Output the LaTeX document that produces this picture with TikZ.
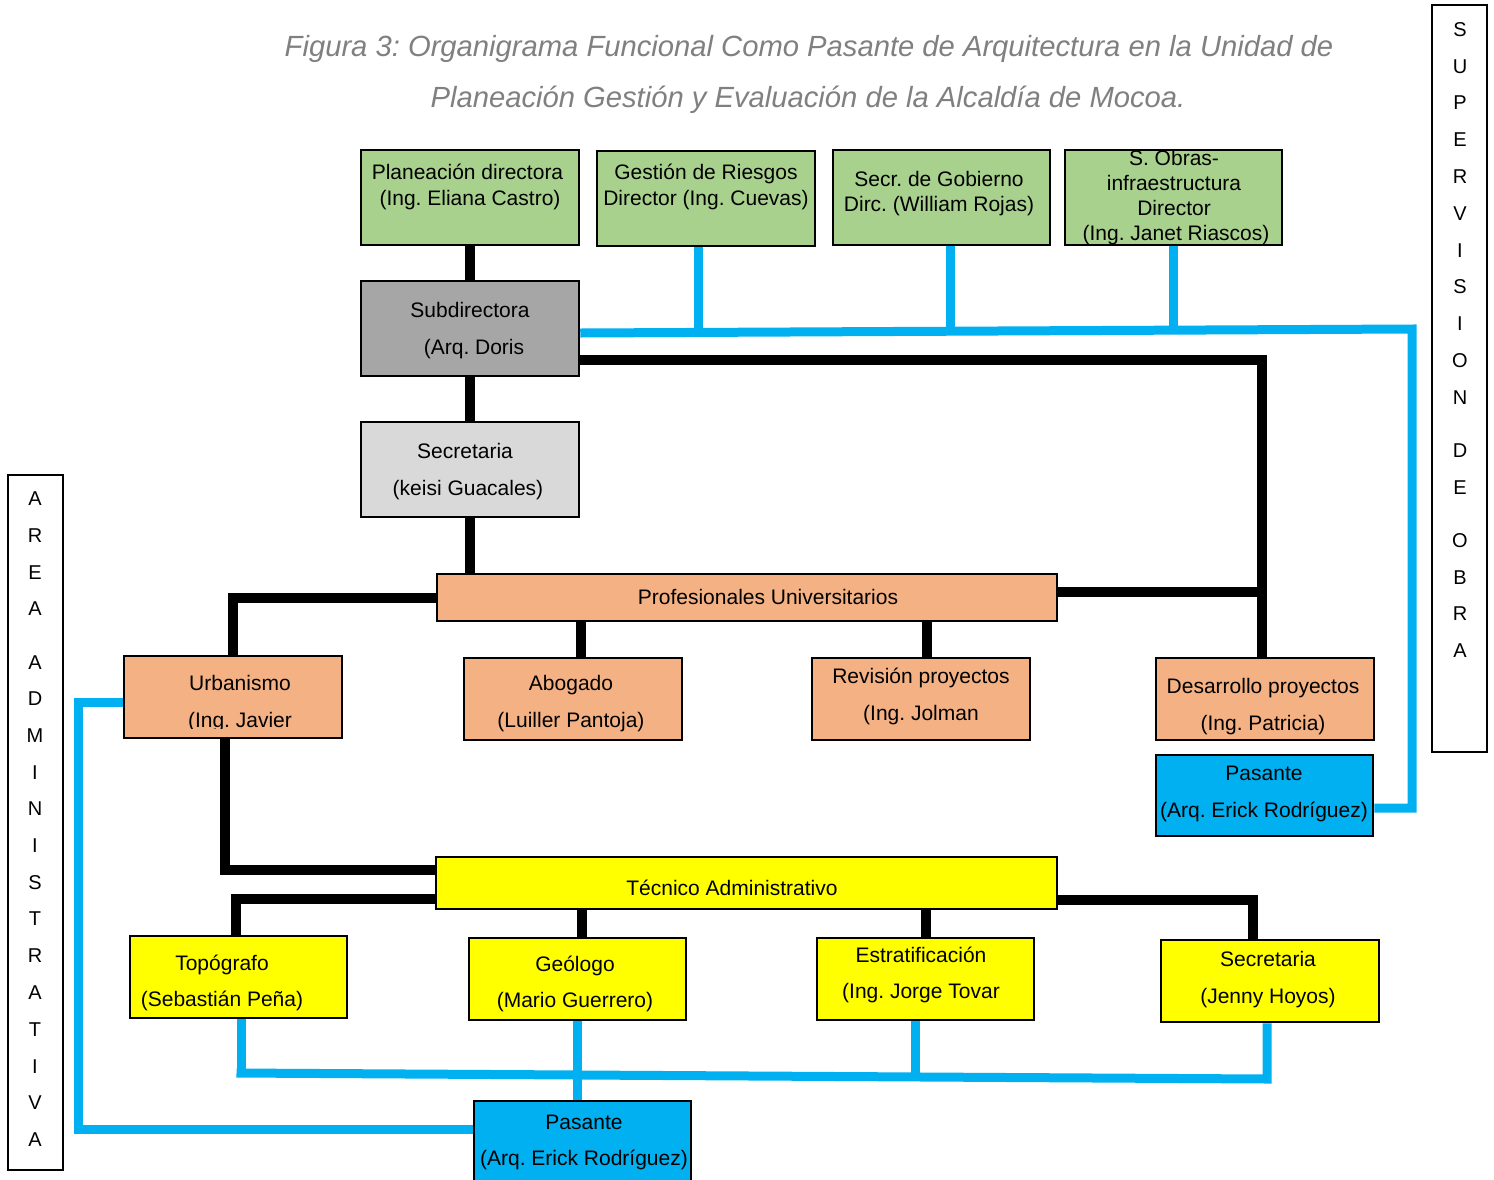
\documentclass[tikz,border=0pt]{standalone}
\usepackage{fontspec}
\setmainfont{Liberation Sans}
\usetikzlibrary{calc}
\frenchspacing
\definecolor{cgreen}{HTML}{A9D18E}
\definecolor{cgray}{HTML}{A6A6A6}
\definecolor{clgray}{HTML}{D9D9D9}
\definecolor{corange}{HTML}{F4B183}
\definecolor{cblue}{HTML}{00B0F0}
\definecolor{cyellow}{HTML}{FFFF00}
\definecolor{ctitle}{HTML}{808080}
\pgfdeclarelayer{bg}
\pgfsetlayers{bg,main}
\newcommand\tline[4]{\node[txt] (#1) at (#2,#3+7.5) {#4};}
\begin{document}
\frenchspacing
\begin{tikzpicture}[x=1pt,y=-1pt,
  box/.style={draw=black, line width=2.5pt, inner sep=0pt, rectangle},
  sidebox/.style={draw=black, line width=1.3pt, inner sep=0pt, rectangle, fill=white},
  txt/.style={font=\fontsize{21}{25}\selectfont, inner sep=0pt, anchor=base},
  side/.style={font=\fontsize{20}{24}\selectfont, inner sep=0pt, anchor=base},
  ttl/.style={font=\fontsize{29.2}{32}\selectfont\itshape, text=ctitle, inner sep=0pt, anchor=base},
  blk/.style={line width=10pt, draw=black},
  blu/.style={line width=9pt, draw=cblue}]
\useasboundingbox (0,0) rectangle (1494,1179);

% title
\node[ttl] (t1) at (809,56) {Figura 3: Organigrama Funcional Como Pasante de Arquitectura en la Unidad de};
\node[ttl] (t2) at (808,107) {Planeación Gestión y Evaluación de la Alcaldía de Mocoa.};

% boxes
\node[box, fill=cgreen, minimum width=218pt, minimum height=95pt] (pd) at (470,197.5) {};
\node[box, fill=cgreen, minimum width=218pt, minimum height=95pt] (gr) at (706,198.5) {};
\node[box, fill=cgreen, minimum width=217pt, minimum height=95pt] (sg) at (941.5,197.5) {};
\node[box, fill=cgreen, minimum width=217pt, minimum height=95pt] (ob) at (1173.5,197.5) {};
\node[box, fill=cgray, minimum width=218pt, minimum height=95pt] (sub) at (470,328.5) {};
\node[box, fill=clgray, minimum width=218pt, minimum height=95pt] (sec) at (470,469.5) {};
\node[box, fill=corange, minimum width=620pt, minimum height=47pt] (pu) at (747,597.5) {};
\node[box, fill=corange, minimum width=218pt, minimum height=82pt] (urb) at (233,697) {};
\node[box, fill=corange, minimum width=218pt, minimum height=82pt] (ab) at (573,699) {};
\node[box, fill=corange, minimum width=218pt, minimum height=82pt] (rv) at (921,699) {};
\node[box, fill=corange, minimum width=218pt, minimum height=82pt] (dp) at (1265,699) {};
\node[box, fill=cblue, minimum width=217pt, minimum height=81pt] (pr) at (1264.5,795.5) {};
\node[box, fill=cyellow, minimum width=621pt, minimum height=52pt] (tec) at (746.5,883) {};
\node[box, fill=cyellow, minimum width=217pt, minimum height=82pt] (topo) at (238.5,977) {};
\node[box, fill=cyellow, minimum width=217pt, minimum height=82pt] (geo) at (577.5,979) {};
\node[box, fill=cyellow, minimum width=217pt, minimum height=82pt] (es) at (925.5,979) {};
\node[box, fill=cyellow, minimum width=218pt, minimum height=82pt] (jen) at (1270,981) {};
\node[box, fill=cblue, minimum width=217pt, minimum height=83pt] (pb) at (582.5,1142.5) {};
\node[sidebox, minimum width=55pt, minimum height=695pt] (adm) at (35.5,822.5) {};
\node[sidebox, minimum width=55pt, minimum height=747pt] (sup) at (1459.5,378.5) {};

% texts
\tline{pd1}{467.5}{172}{Planeación directora}
\tline{pd2}{470}{198}{(Ing. Eliana Castro)}
\tline{gr1}{706}{172}{Gestión de Riesgos}
\tline{gr2}{706}{198}{Director (Ing. Cuevas)}
\tline{sg1}{939}{179}{Secr. de Gobierno}
\tline{sg2}{939}{204}{Dirc. (William Rojas)}
\tline{ob1}{1174}{158}{S. Obras-}
\tline{ob2}{1174}{183}{infraestructura}
\tline{ob3}{1174}{208}{Director}
\tline{ob4}{1176}{233}{(Ing. Janet Riascos)}
\tline{sub1}{470}{310}{Subdirectora}
\tline{sub2}{474}{347}{(Arq. Doris}
\tline{sec1}{465}{451}{Secretaria}
\tline{sec2}{468}{488}{(keisi Guacales)}
\tline{pu1}{768}{597}{Profesionales Universitarios}
\tline{urb1}{240}{683}{Urbanismo}
\begin{scope}
\clip (124,656) rectangle (342,728.5);
\tline{urb2}{240}{720}{(Ing. Javier}
\end{scope}
\tline{ab1}{571}{683}{Abogado}
\tline{ab2}{571}{720}{(Luiller Pantoja)}
\tline{rv1}{921}{676}{Revisión proyectos}
\tline{rv2}{921}{713}{(Ing. Jolman}
\tline{dp1}{1263}{686}{Desarrollo proyectos}
\tline{dp2}{1263}{723}{(Ing. Patricia)}
\tline{pr1}{1264}{773}{Pasante}
\tline{pr2}{1264}{810}{(Arq. Erick Rodríguez)}
\tline{tec1}{732}{888}{Técnico Administrativo}
\tline{topo1}{222}{963}{Topógrafo}
\tline{topo2}{222}{999}{(Sebastián Peña)}
\tline{geo1}{575}{964}{Geólogo}
\tline{geo2}{575}{1000}{(Mario Guerrero)}
\tline{es1}{921}{955}{Estratificación}
\tline{es2}{921}{991}{(Ing. Jorge Tovar}
\tline{jen1}{1268}{959}{Secretaria}
\tline{jen2}{1268}{996}{(Jenny Hoyos)}
\tline{pb1}{584}{1122}{Pasante}
\tline{pb2}{584}{1158}{(Arq. Erick Rodríguez)}

\foreach \l/\y [count=\i] in {A/498,R/535,E/572,A/608,A/662,D/698,M/735,I/772,N/808,I/845,S/882,T/918,R/955,A/992,T/1029,I/1066,V/1102,A/1139}
  \node[side] (adm\i) at (35,\y+7) {\l};
\foreach \l/\y [count=\i] in {S/29,U/66,P/102,E/139,R/176,V/213,I/250,S/286,I/323,O/360,N/397,D/450,E/487,O/540,B/577,R/613,A/650}
  \node[side] (sup\i) at (1460,\y+7) {\l};

% connectors
\begin{pgfonlayer}{bg}
\fill[white] (0,0) rectangle (1494,1179);
% black
\draw[blk] (pd.south) -- (sub.north);
\draw[blk] (sub.south) -- (sec.north);
\draw[blk] (sec.south) -- (sec.south |- pu.north);
\coordinate (c1) at ([yshift=-31.5pt]sub.east);
\coordinate (dpn) at ([xshift=-3pt]dp.north);
\draw[blk] (c1) -| (dpn);
\coordinate (c2) at ([yshift=5.5pt]pu.east);
\draw[blk] (c2) -- (c2 -| dpn);
\draw[blk] (pu.west) -| (urb.north);
\coordinate (abn) at ([xshift=8pt]ab.north);
\draw[blk] (abn) -- (abn |- pu.south);
\coordinate (rvn) at ([xshift=6pt]rv.north);
\draw[blk] (rvn) -- (rvn |- pu.south);
\coordinate (urbs) at ([xshift=-8pt]urb.south);
\coordinate (tw1) at ([yshift=13pt]tec.west);
\draw[blk] (urbs) |- (tw1);
\coordinate (tw2) at ([yshift=-16pt]tec.west);
\coordinate (topn) at ([xshift=-2.5pt]topo.north);
\draw[blk] (tw2) -| (topn);
\coordinate (geon) at ([xshift=4.5pt]geo.north);
\draw[blk] (geon) -- (geon |- tec.south);
\draw[blk] (es.north) -- (es.north |- tec.south);
\coordinate (te) at ([yshift=-17pt]tec.east);
\coordinate (jn) at ([xshift=-17pt]jen.north);
\draw[blk] (te) -| (jn);
% blue
\coordinate (sb) at ([yshift=-4.5pt]sub.east);
\coordinate (bR) at (1412,329);
\coordinate (prE) at ([yshift=-12.5pt]pr.east);
\draw[blu] (sb) -- (bR) |- (prE);
\coordinate (grs) at ([xshift=-8pt]gr.south);
\draw[blu] (grs) -- (grs |- bR);
\coordinate (sgs) at ([xshift=8.5pt]sg.south);
\draw[blu] (sgs) -- (sgs |- bR);
\draw[blu] (ob.south) -- (ob.south |- bR);
\coordinate (lc) at (78,1129);
\draw[blu] ([yshift=-5pt]urb.west) -| (lc) -- (lc -| pb.west);
\coordinate (tps) at ([xshift=2.5pt]topo.south);
\coordinate (busL) at (236.5,1073);
\coordinate (busR) at (1267,1079);
\draw[blu] (tps) -- (tps |- busL);
\draw[blu] (busL) -- (busR) -- (busR |- jen.south);
\coordinate (ess) at ([xshift=-10.5pt]es.south);
\draw[blu] (ess) -- ($(ess |- busR)+(0,-2)$);
\draw[blu] (geo.south) -- (geo.south |- pb.north);
\end{pgfonlayer}
\end{tikzpicture}
\end{document}
